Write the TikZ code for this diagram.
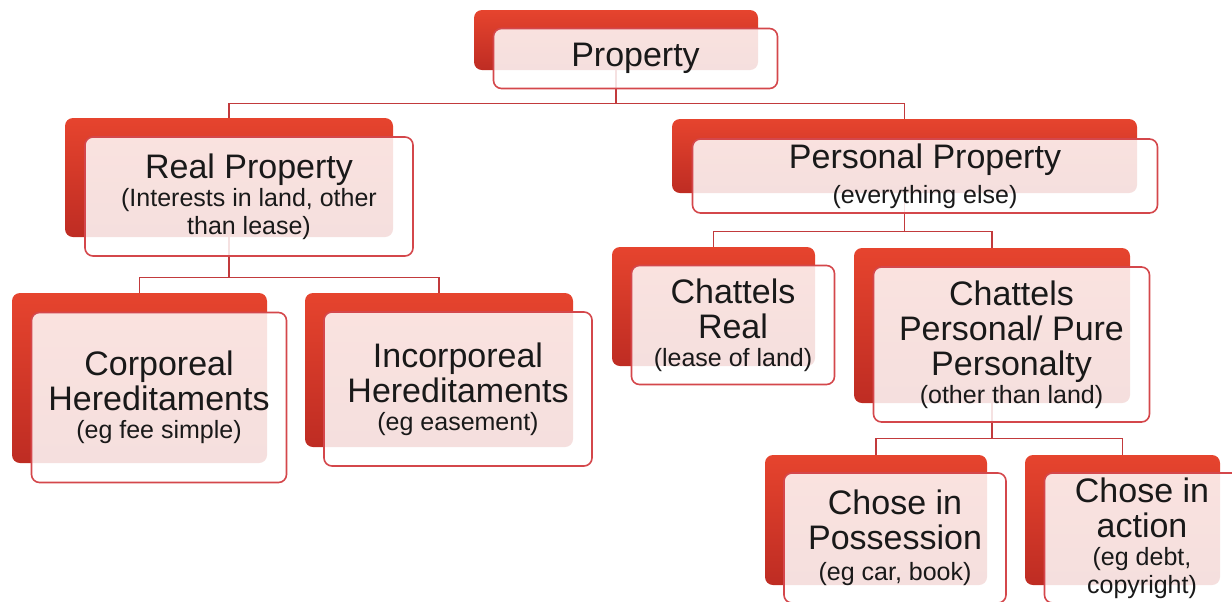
\documentclass[tikz,border=0pt]{standalone}
\usepackage{fontspec}
\setmainfont{Liberation Sans}
\usetikzlibrary{backgrounds}
\definecolor{propred}{HTML}{E6442E}
\definecolor{propdark}{HTML}{BE2C23}
\definecolor{propedge}{HTML}{D4474B}
\definecolor{proplink}{HTML}{C23A3C}
\newcommand{\boxbig}{\fontsize{17}{17.5}\selectfont}
\newcommand{\boxsmall}{\fontsize{12.5}{14}\selectfont}

\begin{document}
\begin{tikzpicture}[
  x=0.5pt, y=-0.5pt,
  every node/.style={font=\boxbig},
  backbox/.style={rectangle, rounded corners=4pt, top color=propred, bottom color=propdark, draw=none, inner sep=0pt},
  frontbox/.style={rectangle, rounded corners=4pt, draw=propedge, line width=0.8pt, fill=white, fill opacity=0.85, text opacity=1, align=center, inner sep=0pt, text=black!90},
  link/.style={draw=proplink, line width=0.8pt},
]
\useasboundingbox (0,0) rectangle (1232,601);

% back plates
\node[backbox, minimum width=142pt, minimum height=30pt] (propB) at (616,40) {};
\node[backbox, minimum width=164pt, minimum height=59.5pt] (realB) at (229,177.5) {};
\node[backbox, minimum width=232.5pt, minimum height=37pt] (persB) at (904.5,156) {};
\node[backbox, minimum width=127.5pt, minimum height=85pt] (corpB) at (139.5,378) {};
\node[backbox, minimum width=134pt, minimum height=77pt] (incorpB) at (439,370) {};
\node[backbox, minimum width=101.5pt, minimum height=59.5pt] (chreB) at (713.5,306.5) {};
\node[backbox, minimum width=138pt, minimum height=77.5pt] (chpeB) at (992,325.5) {};
\node[backbox, minimum width=111pt, minimum height=65pt] (possB) at (876,520) {};
\node[backbox, minimum width=97.5pt, minimum height=65pt] (actB) at (1122.5,520) {};

% front cards
\node[frontbox, minimum width=142pt, minimum height=30pt] (prop) at (635.5,58.5) {Property};
\node[frontbox, minimum width=164pt, minimum height=59.5pt] (real) at (249,196.5)
  {Real Property\\[-3.5pt]\boxsmall (Interests in land, other\\[-3.5pt]\boxsmall than lease)};
\node[frontbox, minimum width=232.5pt, minimum height=37pt] (pers) at (925,176)
  {Personal Property\\\boxsmall (everything else)};
\node[frontbox, minimum width=127.5pt, minimum height=85pt] (corp) at (159,397.5)
  {Corporeal\\Hereditaments\\[-3.5pt]\boxsmall (eg fee simple)};
\node[frontbox, minimum width=134pt, minimum height=77pt] (incorp) at (458,389)
  {Incorporeal\\Hereditaments\\[-3.5pt]\boxsmall (eg easement)};
\node[frontbox, minimum width=101.5pt, minimum height=59.5pt] (chre) at (733,325)
  {Chattels\\Real\\[-3.5pt]\boxsmall (lease of land)};
\node[frontbox, minimum width=138pt, minimum height=77.5pt] (chpe) at (1011.5,344.5)
  {Chattels\\Personal/ Pure\\Personalty\\[-3.5pt]\boxsmall (other than land)};
\node[frontbox, minimum width=111pt, minimum height=65pt] (poss) at (895,538)
  {Chose in\\Possession\\[-2pt]\boxsmall (eg car, book)};
\node[frontbox, minimum width=97.5pt, minimum height=65pt] (act) at (1142,538)
  {Chose in\\action\\[-3.5pt]\boxsmall (eg debt,\\[-3.5pt]\boxsmall copyright)};

% tree lines
\begin{scope}[on background layer]
\draw[link] (propB.south) -- ++(0,33) -| (realB.north);
\draw[link] (propB.south) -- ++(0,33) -| (persB.north);
\draw[link] (realB.south) -- ++(0,40) -| (corpB.north);
\draw[link] (realB.south) -- ++(0,40) -| (incorpB.north);
\draw[link] (persB.south) -- ++(0,38) -| (chreB.north);
\draw[link] (persB.south) -- ++(0,38) -| (chpeB.north);
\draw[link] (chpeB.south) -- ++(0,35) -| (possB.north);
\draw[link] (chpeB.south) -- ++(0,35) -| (actB.north);
\end{scope}

\end{tikzpicture}
\end{document}
